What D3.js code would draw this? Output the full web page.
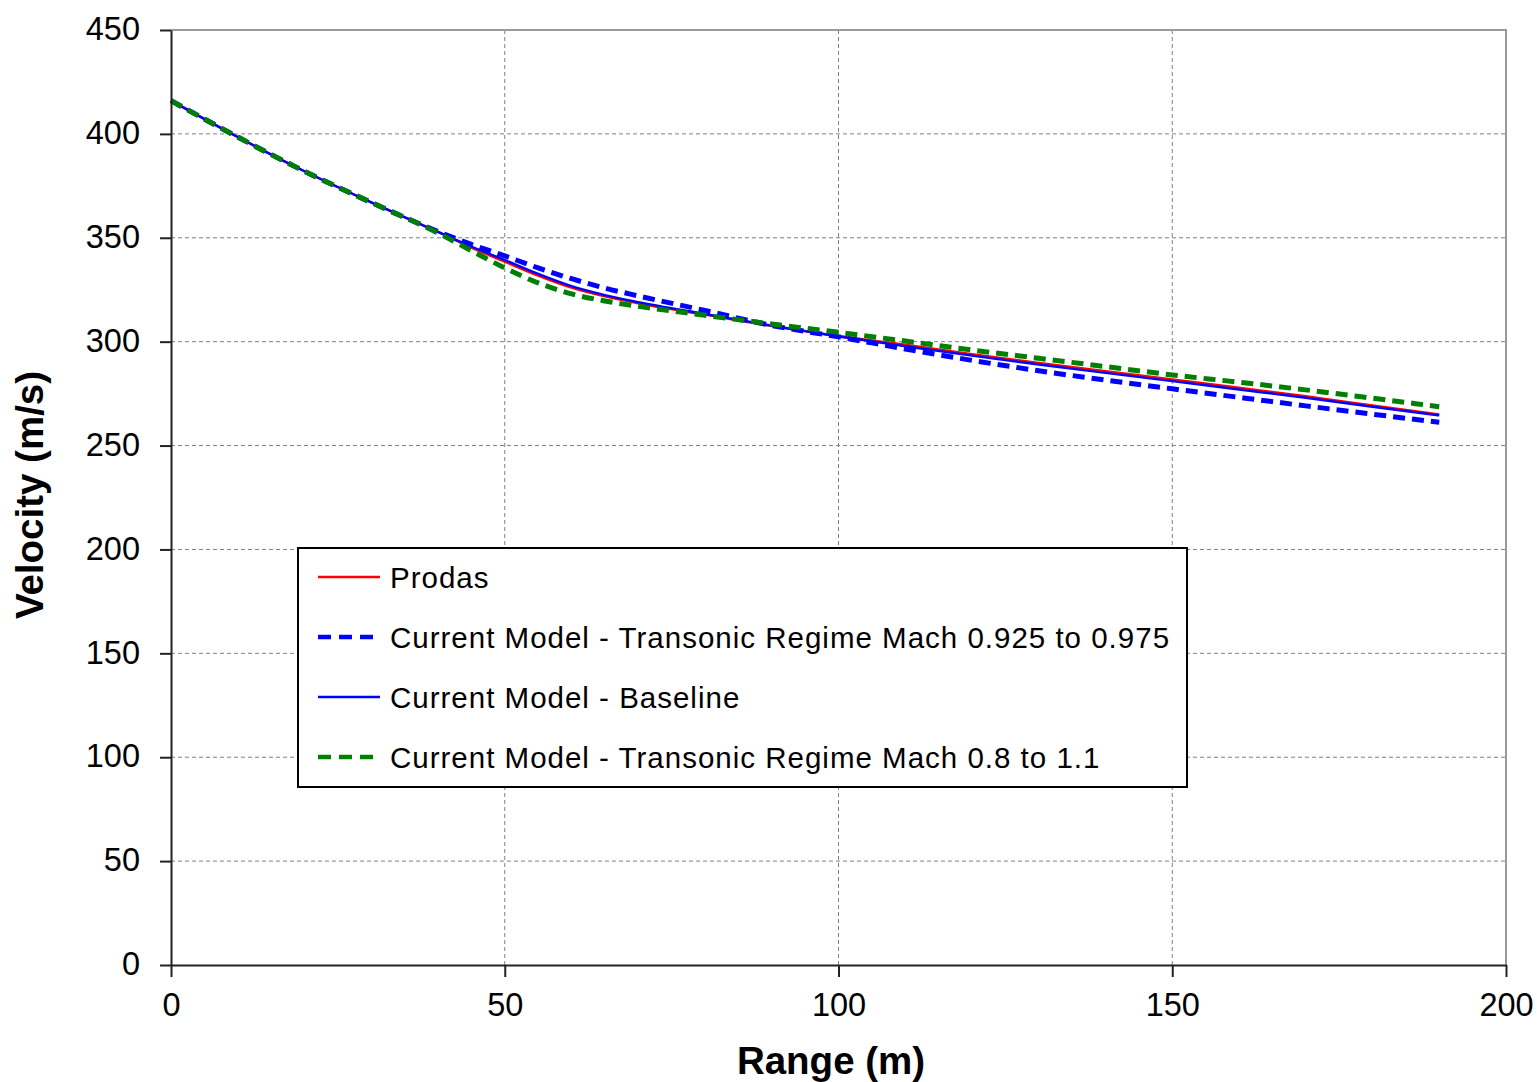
<!DOCTYPE html>
<html>
<head>
<meta charset="utf-8">
<script src="https://cdn.jsdelivr.net/npm/d3@7"></script>
<style>
  body { margin: 0; background: #fff; }
  svg { display: block; font-family: "Liberation Sans", Arial, sans-serif; }
</style>
</head>
<body>
<svg id="chart" width="1537" height="1082"></svg>
<script>
// range (m) where values were read
const range = [0, 10, 20, 30, 40, 45, 50, 55, 60, 65, 70, 80, 90, 100, 110, 120, 130, 140, 150, 160, 170, 180, 190];

// velocity (m/s)
const prodas =      [416, 398.5, 382, 367, 352.8, 345.3, 338.5, 331.8, 326, 321.8, 318.5, 313, 307.5, 302.7, 298.5, 294, 289.8, 285.8, 281.8, 277.8, 273.7, 269.3, 265];
const transNarrow = [416, 398.5, 382, 367, 353, 346.8, 341.3, 335.5, 330.3, 325.8, 322, 315, 307.8, 302.3, 296.5, 291, 286, 281.5, 277.3, 273.2, 269.1, 265.1, 261.2];
const baseline =    [416, 398.5, 382, 367, 352.8, 345.8, 339.3, 332.6, 326.7, 322.4, 319, 313.3, 307.7, 302.5, 297.8, 293.3, 289, 285, 281, 277, 273, 268.7, 264.5];
const transWide =   [416, 398.5, 382, 367, 352.3, 343.8, 335.5, 328.3, 323, 319.6, 317, 312.7, 308.5, 304.5, 300.3, 296, 292, 288, 284, 280.5, 276.8, 272.8, 268.7];

const xTicks = [0, 50, 100, 150, 200];
const yTicks = [0, 50, 100, 150, 200, 250, 300, 350, 400, 450];

const series = [
  {name: "Prodas", values: prodas, color: "#ff0000", dash: null, width: 2.4},
  {name: "Current Model - Transonic Regime Mach 0.925 to 0.975", values: transNarrow, color: "#0000ff", dash: "12,7", width: 5},
  {name: "Current Model - Baseline", values: baseline, color: "#0000ff", dash: null, width: 2.4},
  {name: "Current Model - Transonic Regime Mach 0.8 to 1.1", values: transWide, color: "#008000", dash: "12,7", width: 5}
];

const svg = d3.select("#chart");
const margin = {left: 171, right: 1506, top: 30, bottom: 965};

const x = d3.scaleLinear().domain([0, 200]).range([margin.left, margin.right]);
const y = d3.scaleLinear().domain([0, 450]).range([margin.bottom, margin.top]);

// grid
const grid = svg.append("g");
grid.selectAll(".hg")
  .data(yTicks.filter(d => d > 0 && d < 450))
  .enter().append("line")
  .attr("x1", margin.left).attr("x2", margin.right)
  .attr("y1", d => y(d)).attr("y2", d => y(d))
  .attr("stroke", "#808080").attr("stroke-width", 1).attr("stroke-dasharray", "4,3");
grid.selectAll(".vg")
  .data(xTicks.filter(d => d > 0 && d < 200))
  .enter().append("line")
  .attr("y1", margin.top).attr("y2", margin.bottom)
  .attr("x1", d => x(d)).attr("x2", d => x(d))
  .attr("stroke", "#808080").attr("stroke-width", 1).attr("stroke-dasharray", "4,3");

// top and right frame
svg.append("path")
  .attr("d", `M${margin.left},${margin.top}H${margin.right}V${margin.bottom}`)
  .attr("fill", "none").attr("stroke", "#999").attr("stroke-width", 2);

// lines
const line = d3.line()
  .x((d, i) => x(range[i]))
  .y(d => y(d))
  .curve(d3.curveMonotoneX);

const order = [0, 2, 1, 3];
order.forEach(k => {
  const s = series[k];
  svg.append("path")
    .datum(s.values)
    .attr("d", line)
    .attr("fill", "none")
    .attr("stroke", s.color)
    .attr("stroke-width", s.width)
    .attr("stroke-dasharray", s.dash);
});

// axes
const xAxis = svg.append("g")
  .attr("transform", `translate(0,${margin.bottom})`)
  .call(d3.axisBottom(x).tickValues(xTicks).tickSize(12).tickPadding(16).tickSizeOuter(0));
const yAxis = svg.append("g")
  .attr("transform", `translate(${margin.left},0)`)
  .call(d3.axisLeft(y).tickValues(yTicks).tickSize(11).tickPadding(20).tickSizeOuter(0));

[xAxis, yAxis].forEach(a => {
  a.select(".domain").attr("stroke", "#222").attr("stroke-width", 2);
  a.selectAll(".tick line").attr("stroke", "#222").attr("stroke-width", 2);
  a.selectAll("text").attr("font-size", 32.5).attr("fill", "#000")
    .attr("font-family", "'Liberation Sans', Arial, sans-serif");
});
yAxis.selectAll("text").attr("dy", "0.3em");

// axis titles
svg.append("text")
  .attr("x", 831).attr("y", 1074)
  .attr("text-anchor", "middle")
  .attr("font-size", 38.5).attr("font-weight", "bold")
  .text("Range (m)");
svg.append("text")
  .attr("transform", "translate(43,495) rotate(-90)")
  .attr("text-anchor", "middle")
  .attr("font-size", 38.5).attr("font-weight", "bold")
  .text("Velocity (m/s)");

// legend
const legend = svg.append("g");
legend.append("rect")
  .attr("x", 298).attr("y", 548).attr("width", 889).attr("height", 239)
  .attr("fill", "#fff").attr("stroke", "#000").attr("stroke-width", 2);
const legendY = [577, 637, 697, 757];
series.forEach((s, i) => {
  legend.append("line")
    .attr("x1", 318).attr("x2", 380)
    .attr("y1", legendY[i]).attr("y2", legendY[i])
    .attr("stroke", s.color)
    .attr("stroke-width", s.dash ? 4.5 : 2.4)
    .attr("stroke-dasharray", s.dash ? "13,8" : null);
  legend.append("text")
    .attr("x", 390).attr("y", legendY[i])
    .attr("dy", "0.36em")
    .attr("font-size", 29.5)
    .attr("letter-spacing", 1)
    .text(s.name);
});
</script>
</body>
</html>
